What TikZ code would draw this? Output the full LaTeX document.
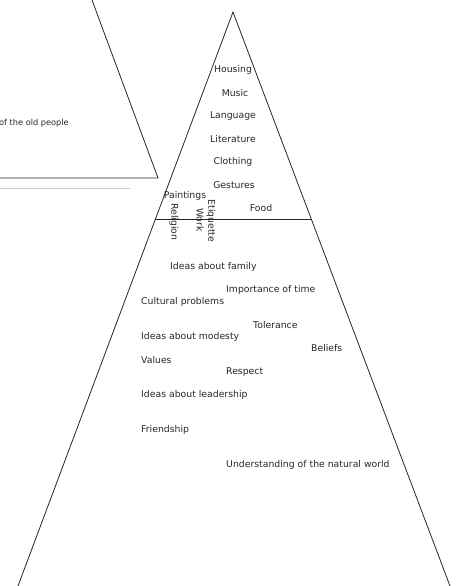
\documentclass[tikz,border=0pt]{standalone}
\usepackage{fontspec}
\setmainfont{DejaVu Sans}
\usetikzlibrary{calc}
\tikzset{
  edge/.style={draw=black!85,line width=0.8pt},
  item/.style={font=\fontsize{9.3}{11}\selectfont,text=black!85,inner sep=0pt},
  lbl/.style={item,anchor=west},
  upright/.style={item,rotate=-90},
}
\begin{document}
\begin{tikzpicture}[x=1pt,y=-1pt]
  \useasboundingbox (0,0) rectangle (456,586);
  % pyramid
  \coordinate (apex) at (233,12);
  \coordinate (bl) at (18,586);
  \coordinate (br) at (450,586);
  \draw[edge] (bl) -- (apex) -- (br);
  \draw[edge] ($(apex)!0.362!(bl)$) -- ($(apex)!0.362!(br)$);
  % cut-off triangle on the left
  \coordinate (lt) at (92,0);
  \coordinate (lc) at (158,178);
  \draw[edge] (lt) -- (lc) -- (0,178);
  \draw[black!20,line width=0.8pt] (0,188) -- (130,188);
  \node[lbl,font=\fontsize{8.2}{10}\selectfont] (old) at (-1,123) {of the old people};
  % visible layer
  \node[item] (housing) at (233,70) {Housing};
  \node[item] (music) at (235,93) {Music};
  \node[item] (language) at (233,116) {Language};
  \node[item] (literature) at (233,139) {Literature};
  \node[item] (clothing) at (233,162) {Clothing};
  \node[item] (gestures) at (234,185) {Gestures};
  \node[item] (paintings) at (185,196) {Paintings};
  \node[item] (food) at (261,208) {Food};
  \node[upright] (religion) at (174,222) {Religion};
  \node[upright] (work) at (200,220) {Work};
  \node[upright] (etiquette) at (211,221) {Etiquette};
  % hidden layer
  \node[lbl] (family) at (170,267) {Ideas about family};
  \node[lbl] (time) at (226,290) {Importance of time};
  \node[lbl] (problems) at (141,302) {Cultural problems};
  \node[lbl] (tolerance) at (253,325) {Tolerance};
  \node[lbl] (modesty) at (141,337) {Ideas about modesty};
  \node[lbl] (beliefs) at (311,348) {Beliefs};
  \node[lbl] (values) at (141,360) {Values};
  \node[lbl] (respect) at (226,372) {Respect};
  \node[lbl] (leadership) at (141,395) {Ideas about leadership};
  \node[lbl] (friendship) at (141,430) {Friendship};
  \node[lbl] (nature) at (226,465) {Understanding of the natural world};
\end{tikzpicture}
\end{document}
